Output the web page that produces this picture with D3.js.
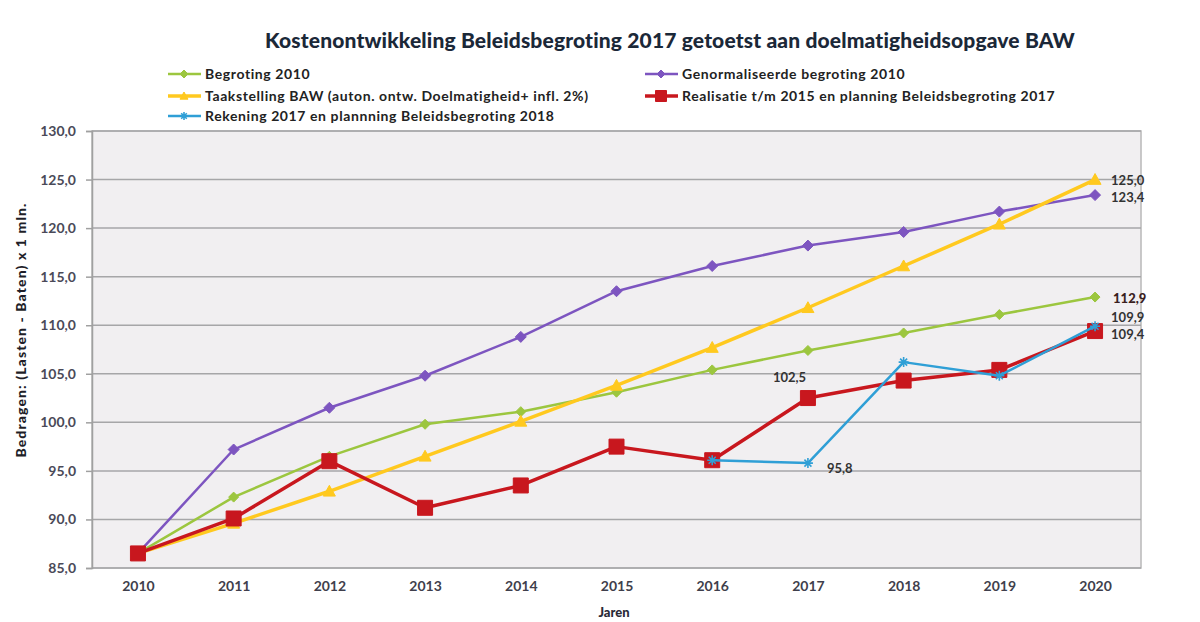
<!DOCTYPE html>
<html>
<head>
<meta charset="utf-8">
<script src="https://cdn.jsdelivr.net/npm/d3@7"></script>
<style>
  html, body { margin: 0; padding: 0; background: #fff; }
  svg { display: block; font-family: Lato, "Open Sans", sans-serif; }
</style>
</head>
<body>
<svg id="chart" width="1200" height="622"></svg>
<script>
// Years on the x axis
const years = [2010, 2011, 2012, 2013, 2014, 2015, 2016, 2017, 2018, 2019, 2020];

// Series values (mln euro, lasten - baten)
const begroting2010 = [86.5, 92.3, 96.5, 99.8, 101.1, 103.1, 105.4, 107.4, 109.2, 111.1, 112.9];
const genormaliseerd = [86.5, 97.2, 101.5, 104.8, 108.8, 113.5, 116.1, 118.2, 119.6, 121.7, 123.4];
const taakstelling = [86.5, 89.6, 92.9, 96.5, 100.1, 103.8, 107.7, 111.8, 116.1, 120.4, 125.0];
const realisatie = [86.5, 90.1, 96.0, 91.2, 93.5, 97.5, 96.1, 102.5, 104.3, 105.4, 109.4];
const rekeningYears = [2016, 2017, 2018, 2019, 2020];
const rekening = [96.1, 95.8, 106.2, 104.8, 109.9];

const yTicks = [85, 90, 95, 100, 105, 110, 115, 120, 125, 130];

const seriesNames = [
  "Begroting 2010",
  "Genormaliseerde begroting 2010",
  "Taakstelling BAW (auton. ontw. Doelmatigheid+ infl. 2%)",
  "Realisatie t/m 2015 en planning Beleidsbegroting 2017",
  "Rekening 2017 en plannning Beleidsbegroting 2018"
];

const series = [
  { name: seriesNames[0], x: years, y: begroting2010, color: "#9cc63f", width: 2.5, marker: "diamond", size: 5 },
  { name: seriesNames[1], x: years, y: genormaliseerd, color: "#7d55c0", width: 2.5, marker: "diamond", size: 5.5 },
  { name: seriesNames[2], x: years, y: taakstelling, color: "#ffc91f", width: 3.5, marker: "triangle", size: 6 },
  { name: seriesNames[3], x: years, y: realisatie, color: "#c8171e", width: 3.5, marker: "square", size: 7.5 },
  { name: seriesNames[4], x: rekeningYears, y: rekening, color: "#2f9fd6", width: 2.5, marker: "star", size: 5 }
];

const svg = d3.select("#chart");
const plot = { left: 92, right: 1141, top: 131, bottom: 568 };

const x = d3.scaleLinear().domain([2009.52, 2020.48]).range([plot.left, plot.right]);
const y = d3.scaleLinear().domain([85, 130]).range([plot.bottom, plot.top]);

// Plot background
svg.append("rect")
  .attr("x", plot.left).attr("y", plot.top)
  .attr("width", plot.right - plot.left).attr("height", plot.bottom - plot.top)
  .attr("fill", "#f1eff1").attr("stroke", "#b8b8b8").attr("stroke-width", 1.5);

// Gridlines
svg.append("g").selectAll("line").data(yTicks).join("line")
  .attr("x1", plot.left).attr("x2", plot.right)
  .attr("y1", d => y(d)).attr("y2", d => y(d))
  .attr("stroke", "#a6a6a8").attr("stroke-width", 1.5);

const fmt = v => d3.format(".1f")(v).replace(".", ",");

// Y axis
const yAxis = svg.append("g").attr("transform", `translate(${plot.left},0)`)
  .call(d3.axisLeft(y).tickValues(yTicks).tickFormat(fmt).tickSize(6).tickPadding(10));
yAxis.select(".domain").attr("stroke", "#a0a0a0").attr("stroke-width", 1.5);
yAxis.selectAll(".tick line").attr("stroke", "#a0a0a0").attr("stroke-width", 1.5);
yAxis.selectAll("text").attr("font-size", 14).attr("font-weight", 700).attr("fill", "#4a4a58")
  .attr("font-family", "Lato, sans-serif");

// X axis
const xAxis = svg.append("g").attr("transform", `translate(0,${plot.bottom})`)
  .call(d3.axisBottom(x).tickValues(years).tickFormat(d3.format("d")).tickSize(0).tickPadding(13));
xAxis.select(".domain").remove();
xAxis.selectAll("text").attr("font-size", 14).attr("font-weight", 700).attr("fill", "#3f3f4c")
  .attr("font-family", "Lato, sans-serif");

// Axis titles
svg.append("text")
  .attr("transform", `translate(26,${330}) rotate(-90)`)
  .attr("text-anchor", "middle").attr("font-size", 14).attr("font-weight", 900).attr("fill", "#1e1e28")
  .attr("letter-spacing", 1.1)
  .text("Bedragen: (Lasten - Baten) x 1 mln.");
svg.append("text")
  .attr("x", 614).attr("y", 617).attr("text-anchor", "middle")
  .attr("font-size", 13).attr("font-weight", 900).attr("fill", "#2a2a36")
  .text("Jaren");

// Title
svg.append("text")
  .attr("x", 670).attr("y", 48).attr("text-anchor", "middle")
  .attr("font-size", 21).attr("font-weight", 900).attr("fill", "#1b2838")
  .attr("letter-spacing", 0.15)
  .text("Kostenontwikkeling Beleidsbegroting 2017 getoetst aan doelmatigheidsopgave BAW");

// Marker shapes
function markerPath(type, s) {
  if (type === "diamond") return `M0,${-s}L${s},0L0,${s}L${-s},0Z`;
  if (type === "triangle") return `M0,${-s}L${s},${s * 0.8}L${-s},${s * 0.8}Z`;
  if (type === "square") return `M${-s},${-s}H${s}V${s}H${-s}Z`;
  return `M${-s},0H${s}M0,${-s}V${s}M${-s * 0.7},${-s * 0.7}L${s * 0.7},${s * 0.7}M${-s * 0.7},${s * 0.7}L${s * 0.7},${-s * 0.7}`;
}
function drawMarker(g, s, cx, cy) {
  const p = g.append("path").attr("d", markerPath(s.marker, s.size))
    .attr("transform", `translate(${cx},${cy})`);
  if (s.marker === "star") p.attr("fill", "none").attr("stroke", s.color).attr("stroke-width", 1.6);
  else p.attr("fill", s.color).attr("stroke", s.color).attr("stroke-width", 1);
}

// Lines and markers
const line = d3.line().x(d => x(d[0])).y(d => y(d[1]));
series.forEach(s => {
  const pts = s.x.map((xx, j) => [xx, s.y[j]]);
  const g = svg.append("g");
  g.append("path").attr("d", line(pts)).attr("fill", "none")
    .attr("stroke", s.color).attr("stroke-width", s.width).attr("stroke-linejoin", "round");
  pts.forEach(p => drawMarker(g, s, x(p[0]), y(p[1])));
});

// Value labels
const labels = [
  { v: taakstelling[10], xv: 2020, dx: 16, dy: 5 },
  { v: genormaliseerd[10], xv: 2020, dx: 16, dy: 7 },
  { v: begroting2010[10], xv: 2020, dx: 18, dy: 6, bold: true },
  { v: rekening[4], xv: 2020, dx: 16, dy: -4 },
  { v: realisatie[10], xv: 2020, dx: 16, dy: 8 },
  { v: realisatie[7], xv: 2017, dx: -35, dy: -16 },
  { v: rekening[1], xv: 2017, dx: 19, dy: 10 }
];
svg.append("g").selectAll("text").data(labels).join("text")
  .attr("x", d => x(d.xv) + d.dx).attr("y", d => y(d.v) + d.dy)
  .attr("font-size", 13).attr("font-weight", d => d.bold ? 900 : 700)
  .attr("fill", d => d.bold ? "#3a1e1e" : "#333")
  .text(d => fmt(d.v));

// Legend
const legendItems = [
  { s: series[0], lx: 168, ly: 74 },
  { s: series[2], lx: 168, ly: 96 },
  { s: series[4], lx: 168, ly: 116 },
  { s: series[1], lx: 645, ly: 74 },
  { s: series[3], lx: 645, ly: 96 }
];
const lg = svg.append("g");
legendItems.forEach(it => {
  const g = lg.append("g");
  g.append("line").attr("x1", it.lx).attr("x2", it.lx + 33).attr("y1", it.ly).attr("y2", it.ly)
    .attr("stroke", it.s.color).attr("stroke-width", it.s.width);
  drawMarker(g, Object.assign({}, it.s, { size: it.s.marker === "square" ? 5.5 : 4 }), it.lx + 16, it.ly);
  g.append("text").attr("x", it.lx + 37).attr("y", it.ly + 5)
    .attr("font-size", 14).attr("font-weight", 700).attr("fill", "#222")
    .attr("letter-spacing", 0.6)
    .text(it.s.name);
});
</script>
</body>
</html>
